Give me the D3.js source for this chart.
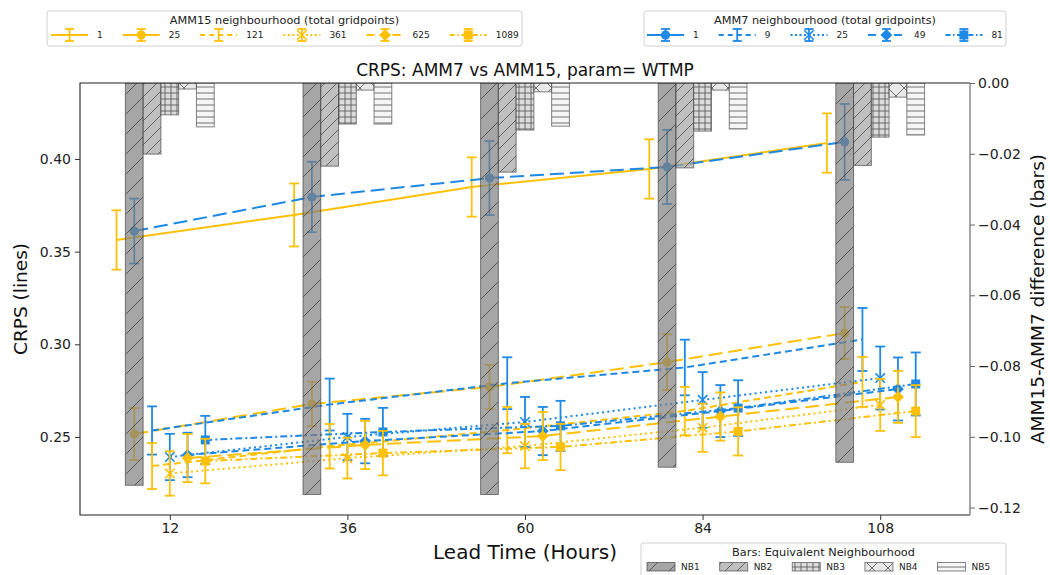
<!DOCTYPE html>
<html>
<head>
<meta charset="utf-8">
<script src="https://cdn.jsdelivr.net/npm/d3@7"></script>
<style>
body { margin: 0; background: #fff; }
svg { font-family: "DejaVu Sans", sans-serif; }
</style>
</head>
<body>
<div id="chart"></div>
<script>
// lead times (hours) and ticks
const leadTimes = [12, 36, 60, 84, 108];
const xTicks = [12, 36, 60, 84, 108];
const crpsTicks = [0.25, 0.30, 0.35, 0.40];
const diffTicks = [0, -0.02, -0.04, -0.06, -0.08, -0.10, -0.12];

// AMM15 CRPS per neighbourhood, one value per lead time
const amm15Names = ["1", "25", "121", "361", "625", "1089"];
const amm15Crps = [
  [0.3563, 0.3698, 0.3849, 0.3946, 0.4086],
  [0.2516, 0.2678, 0.2770, 0.2904, 0.3061],
  [0.2343, 0.2450, 0.2537, 0.2640, 0.2797],
  [0.2303, 0.2386, 0.2451, 0.2550, 0.2673],
  [0.2386, 0.2457, 0.2505, 0.2610, 0.2716],
  [0.2370, 0.2413, 0.2446, 0.2530, 0.2640]
];
const amm15Err = [
  [0.016, 0.017, 0.016, 0.016, 0.016],
  [0.014, 0.012, 0.012, 0.015, 0.014],
  [0.0124, 0.012, 0.0125, 0.013, 0.0135],
  [0.012, 0.011, 0.012, 0.013, 0.014],
  [0.013, 0.013, 0.013, 0.013, 0.014],
  [0.012, 0.012, 0.0125, 0.013, 0.014]
];

// AMM7 CRPS per neighbourhood
const amm7Names = ["1", "9", "25", "49", "81"];
const amm7Crps = [
  [0.3611, 0.3795, 0.3897, 0.3957, 0.4092],
  [0.2535, 0.2675, 0.2790, 0.2875, 0.3026],
  [0.2392, 0.2500, 0.2581, 0.2700, 0.2818],
  [0.2403, 0.2478, 0.2532, 0.2640, 0.2759],
  [0.2484, 0.2527, 0.2560, 0.2656, 0.2786]
];
const amm7Err = [
  [0.0175, 0.019, 0.020, 0.020, 0.0205],
  [0.013, 0.014, 0.014, 0.015, 0.017],
  [0.0125, 0.0125, 0.0135, 0.015, 0.017],
  [0.012, 0.012, 0.013, 0.014, 0.017],
  [0.013, 0.013, 0.0135, 0.015, 0.017]
];

// AMM15-AMM7 difference for equivalent neighbourhoods
const barNames = ["NB1", "NB2", "NB3", "NB4", "NB5"];
const barDiff = [
  [-0.1137, -0.1163, -0.1163, -0.1086, -0.1072],
  [-0.0201, -0.0235, -0.0252, -0.0240, -0.0233],
  [-0.0090, -0.0116, -0.0133, -0.0136, -0.0153],
  [-0.0017, -0.0020, -0.0025, -0.0020, -0.0040],
  [-0.0124, -0.0116, -0.0122, -0.0130, -0.0147]
];

// styles
const yellow = "#FFC107", blue = "#1E88E5";
const amm15Offset = [-7.2, -4.8, -2.4, 0, 2.4, 4.8];
const amm7Offset = [-4.8, -2.4, 0, 2.4, 4.8];
const barOffset = [-4.8, -2.4, 0, 2.4, 4.8];
const barW = 2.4;
const amm15Marker = [null, "o", null, "x", "D", "s"];
const amm7Marker = ["o", null, "x", "D", "s"];
const amm15Dash = [null, "14,6", "7,4", "2,3.3", "14,6", "7,3,2,3"];
const amm7Dash = ["14,6", "7,4", "2,3.3", "7,4", "7,3,2,3"];
const amm15LegDash = [null, null, "5,4", "2,2.5", "8,5", "5,2.5,1.5,2.5"];
const amm7LegDash = [null, "5,4", "2,2.5", "8,5", "5,2.5,1.5,2.5"];
const barFill = ["#808080", "#a5a5a5", "#cdcdcd", "#dedede", "#f1f1f1"];

const width = 1050, height = 575;
const plot = {left: 80, right: 970, top: 83, bottom: 515};

const svg = d3.select("#chart").append("svg")
  .attr("width", width).attr("height", height);

const x = d3.scaleLinear([-0.135, 120.135], [plot.left, plot.right]);
const y = d3.scaleLinear([0.2079, 0.441], [plot.bottom, plot.top]);
const yR = d3.scaleLinear([-0.1221, 0], [plot.bottom, plot.top]);

// hatch patterns
const defs = svg.append("defs");
function hatch(id, size, lines) {
  const p = defs.append("pattern").attr("id", id)
    .attr("patternUnits", "userSpaceOnUse")
    .attr("width", size).attr("height", size);
  lines.forEach(l => p.append("path").attr("d", l)
    .attr("stroke", "#333").attr("stroke-width", 0.9).attr("fill", "none"));
}
const diag = s => [`M0,${s}L${s},0`, `M${-s / 2},${s / 2}L${s / 2},${-s / 2}`, `M${s / 2},${s * 1.5}L${s * 1.5},${s / 2}`];
const back = s => [`M0,0L${s},${s}`, `M${-s / 2},${s / 2}L${s / 2},${s * 1.5}`, `M${s / 2},${-s / 2}L${s * 1.5},${s / 2}`];
hatch("h0", 20, diag(20));
hatch("h1", 12, diag(12));
hatch("h2", 6, [`M0,3H6`, `M3,0V6`]);
hatch("h3", 16, diag(16).concat(back(16)));
hatch("h4", 6, [`M0,3H6`]);

const clip = defs.append("clipPath").attr("id", "plotclip");
clip.append("rect").attr("x", plot.left).attr("y", plot.top)
  .attr("width", plot.right - plot.left).attr("height", plot.bottom - plot.top);

const marks = svg.append("g").attr("clip-path", "url(#plotclip)");

function drawMarker(g, type, cx, cy, color) {
  if (!type) return;
  if (type === "o") {
    g.append("path").attr("d", d3.symbol(d3.symbolCircle, 66)())
      .attr("transform", `translate(${cx},${cy})`).attr("fill", color);
  } else if (type === "s") {
    g.append("path").attr("d", d3.symbol(d3.symbolSquare, 81)())
      .attr("transform", `translate(${cx},${cy})`).attr("fill", color);
  } else if (type === "D") {
    g.append("path").attr("d", d3.symbol(d3.symbolSquare, 70)())
      .attr("transform", `translate(${cx},${cy}) rotate(45)`).attr("fill", color);
  } else if (type === "x") {
    g.append("path").attr("d", d3.symbol(d3.symbolTimes, 60)())
      .attr("transform", `translate(${cx},${cy})`)
      .attr("fill", "none").attr("stroke", color).attr("stroke-width", 1.6);
  }
}

function drawSeries(vals, errs, offset, dash, marker, color) {
  const g = marks.append("g");
  const pts = leadTimes.map((lt, i) => [x(lt + offset), y(vals[i]), errs[i], vals[i]]);
  g.append("path")
    .attr("d", d3.line()(pts.map(p => [p[0], p[1]])))
    .attr("fill", "none").attr("stroke", color).attr("stroke-width", 2)
    .attr("stroke-dasharray", dash);
  pts.forEach(p => {
    const top = y(p[3] + p[2]), bot = y(p[3] - p[2]);
    g.append("line").attr("x1", p[0]).attr("x2", p[0]).attr("y1", top).attr("y2", bot)
      .attr("stroke", color).attr("stroke-width", 1.8);
    [top, bot].forEach(c => g.append("line")
      .attr("x1", p[0] - 5).attr("x2", p[0] + 5).attr("y1", c).attr("y2", c)
      .attr("stroke", color).attr("stroke-width", 1.8));
    drawMarker(g, marker, p[0], p[1], color);
  });
}

// interleave AMM15 / AMM7 series
amm15Names.forEach((n, k) => {
  drawSeries(amm15Crps[k], amm15Err[k], amm15Offset[k], amm15Dash[k], amm15Marker[k], yellow);
  if (k < amm7Names.length)
    drawSeries(amm7Crps[k], amm7Err[k], amm7Offset[k], amm7Dash[k], amm7Marker[k], blue);
});

// bars on the twin axis
barNames.forEach((nb, j) => {
  const g = marks.append("g");
  leadTimes.forEach((lt, i) => {
    const bx = x(lt + barOffset[j] - barW / 2);
    const bw = x(barW) - x(0);
    const by = yR(0), bh = yR(barDiff[j][i]) - yR(0);
    g.append("rect").attr("x", bx).attr("y", by).attr("width", bw).attr("height", bh)
      .attr("fill", barFill[j]).attr("fill-opacity", 0.7);
    g.append("rect").attr("x", bx).attr("y", by).attr("width", bw).attr("height", bh)
      .attr("fill", `url(#h${j})`).attr("opacity", 0.75)
      .attr("stroke", "#333").attr("stroke-width", 1).attr("stroke-opacity", 0.8);
  });
});

// frame
svg.append("path")
  .attr("d", `M${plot.right},${plot.top}H${plot.left}V${plot.bottom}H${plot.right}`)
  .attr("fill", "none").attr("stroke", "#222").attr("stroke-width", 1.1);
svg.append("line").attr("x1", plot.right).attr("x2", plot.right)
  .attr("y1", plot.top).attr("y2", plot.bottom)
  .attr("stroke", "#777").attr("stroke-width", 1.3);

// axes
const xAxis = svg.append("g").attr("transform", `translate(0,${plot.bottom})`)
  .call(d3.axisBottom(x).tickValues(xTicks).tickSize(5).tickPadding(3).tickSizeOuter(0));
const yAxis = svg.append("g").attr("transform", `translate(${plot.left},0)`)
  .call(d3.axisLeft(y).tickValues(crpsTicks).tickFormat(d3.format(".2f")).tickSize(5).tickPadding(4).tickSizeOuter(0));
const yAxisR = svg.append("g").attr("transform", `translate(${plot.right},0)`)
  .call(d3.axisRight(yR).tickValues(diffTicks).tickFormat(d => d3.format(".2f")(d).replace("-", "\u2212")).tickSize(5).tickPadding(3).tickSizeOuter(0));
[xAxis, yAxis, yAxisR].forEach(a => {
  a.select(".domain").remove();
  a.selectAll("text").attr("font-size", 14).attr("fill", "#222").attr("font-family", "DejaVu Sans");
  a.selectAll("line").attr("stroke", "#333");
});
yAxisR.selectAll("line").attr("stroke", "#666");

// labels
svg.append("text").attr("x", 525).attr("y", 76).attr("text-anchor", "middle")
  .attr("font-size", 17).attr("fill", "#111").text("CRPS: AMM7 vs AMM15, param= WTMP");
svg.append("text").attr("x", 525).attr("y", 559).attr("text-anchor", "middle")
  .attr("font-size", 20).attr("fill", "#111").text("Lead Time (Hours)");
svg.append("text").attr("transform", `translate(27,${(plot.top + plot.bottom) / 2}) rotate(-90)`)
  .attr("text-anchor", "middle").attr("font-size", 18.5).attr("fill", "#111").text("CRPS (lines)");
svg.append("text").attr("transform", `translate(1044,${(plot.top + plot.bottom) / 2}) rotate(-90)`)
  .attr("text-anchor", "middle").attr("font-size", 18.5).attr("fill", "#111").text("AMM15-AMM7 difference (bars)");

// legends
function legendBox(bx, by, bw, bh, title) {
  const g = svg.append("g");
  g.append("rect").attr("x", bx).attr("y", by).attr("width", bw).attr("height", bh)
    .attr("rx", 2.5).attr("fill", "#fff").attr("fill-opacity", 0.8)
    .attr("stroke", "#d0d0d0").attr("stroke-width", 1);
  g.append("text").attr("x", bx + bw / 2).attr("y", by + 13).attr("text-anchor", "middle")
    .attr("font-size", 11.3).attr("fill", "#222").text(title);
  return g;
}

function lineLegend(g, startX, cy, names, dashes, markers, color) {
  let cx = startX;
  names.forEach((n, i) => {
    const h = g.append("g");
    h.append("line").attr("x1", cx).attr("x2", cx + 37).attr("y1", cy).attr("y2", cy)
      .attr("stroke", color).attr("stroke-width", 2).attr("stroke-dasharray", dashes[i]);
    const mx = cx + 18.5;
    h.append("line").attr("x1", mx).attr("x2", mx).attr("y1", cy - 6).attr("y2", cy + 6)
      .attr("stroke", color).attr("stroke-width", 1.8);
    [cy - 6, cy + 6].forEach(c => h.append("line").attr("x1", mx - 4.5).attr("x2", mx + 4.5)
      .attr("y1", c).attr("y2", c).attr("stroke", color).attr("stroke-width", 1.8));
    drawMarker(h, markers[i], mx, cy, color);
    const t = h.append("text").attr("x", cx + 46).attr("y", cy + 3.3)
      .attr("font-size", 9).attr("fill", "#222").text(n);
    cx = cx + 46 + t.node().getComputedTextLength() + 20;
  });
}

const leg1 = legendBox(47, 11, 475, 35, "AMM15 neighbourhood (total gridpoints)");
lineLegend(leg1, 51, 35, amm15Names, amm15LegDash, amm15Marker, yellow);
const leg2 = legendBox(644, 11, 362, 35, "AMM7 neighbourhood (total gridpoints)");
lineLegend(leg2, 647, 35, amm7Names, amm7LegDash, amm7Marker, blue);

const leg3 = legendBox(641, 543, 365, 40, "Bars: Equivalent Neighbourhood");
let px = 647;
barNames.forEach((nb, j) => {
  leg3.append("rect").attr("x", px).attr("y", 562.5).attr("width", 28).attr("height", 8.5)
    .attr("fill", barFill[j]).attr("fill-opacity", 0.7);
  leg3.append("rect").attr("x", px).attr("y", 562.5).attr("width", 28).attr("height", 8.5)
    .attr("fill", `url(#h${j})`).attr("opacity", 0.75)
    .attr("stroke", "#333").attr("stroke-width", 1).attr("stroke-opacity", 0.8);
  const t = leg3.append("text").attr("x", px + 34).attr("y", 570)
    .attr("font-size", 9).attr("fill", "#222").text(nb);
  px = px + 34 + t.node().getComputedTextLength() + 20;
});
</script>
</body>
</html>
